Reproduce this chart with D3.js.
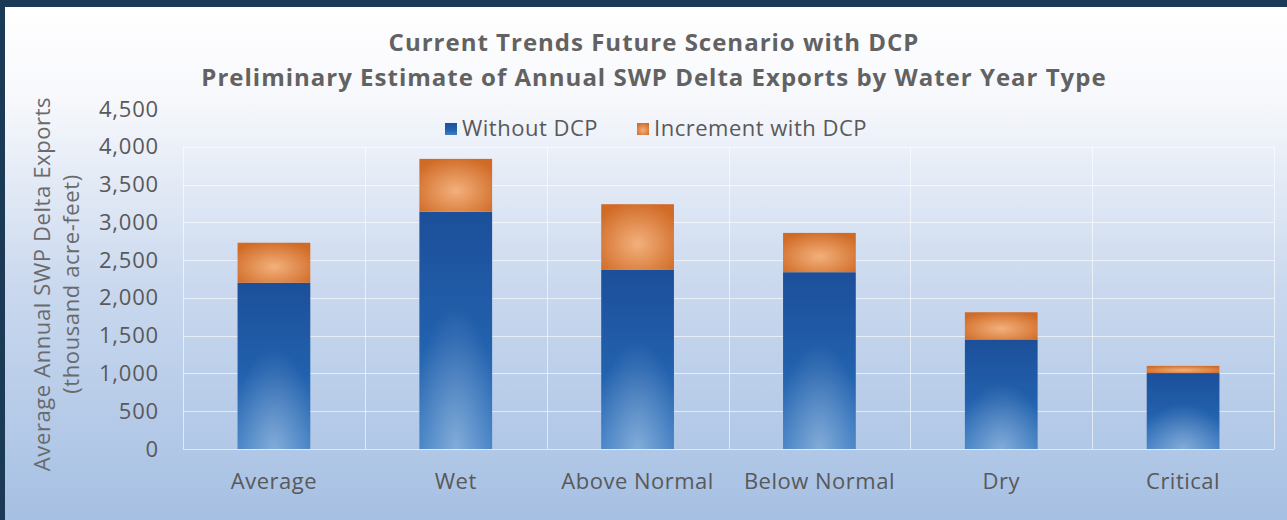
<!DOCTYPE html>
<html>
<head>
<meta charset="utf-8">
<script src="https://cdn.jsdelivr.net/npm/d3@7"></script>
<style>
    body { margin: 0; background: #1b3a56; }
    text { font-family: "Open Sans", sans-serif; }
</style>
</head>
<body>
<script>
(function(){

    //chart data
    var categories = ["Average", "Wet", "Above Normal", "Below Normal", "Dry", "Critical"];
    var withoutDCP = [2200, 3140, 2370, 2340, 1450, 1005];
    var incrementDCP = [530, 700, 870, 520, 360, 95];
    var yTicks = [0, 500, 1000, 1500, 2000, 2500, 3000, 3500, 4000, 4500];
    var seriesNames = ["Without DCP", "Increment with DCP"];
    var titleLines = ["Current Trends Future Scenario with DCP",
        "Preliminary Estimate of Annual SWP Delta Exports by Water Year Type"];
    var yTitleLines = ["Average Annual SWP Delta Exports", "(thousand acre-feet)"];

    var width = 1287,
        height = 520,
        plot = {left: 183, right: 1274, top: 109, bottom: 449};

    var svg = d3.select("body")
        .append("svg")
        .attr("width", width)
        .attr("height", height)
        .style("display", "block");

    var defs = svg.append("defs");

    //background gradient, white at top to pale blue at bottom
    var bg = defs.append("linearGradient").attr("id", "bg")
        .attr("x1", 0).attr("y1", 0).attr("x2", 0).attr("y2", 1);
    bg.append("stop").attr("offset", "0%").attr("stop-color", "#ffffff");
    bg.append("stop").attr("offset", "18%").attr("stop-color", "#f7f8fc");
    bg.append("stop").attr("offset", "55%").attr("stop-color", "#c9d8ee");
    bg.append("stop").attr("offset", "100%").attr("stop-color", "#a6c0e3");

    //blue bar gradient
    var blue = defs.append("linearGradient").attr("id", "blue")
        .attr("x1", 0).attr("y1", 0).attr("x2", 0).attr("y2", 1);
    blue.append("stop").attr("offset", "0%").attr("stop-color", "#1c4f9a");
    blue.append("stop").attr("offset", "55%").attr("stop-color", "#2261ad");
    blue.append("stop").attr("offset", "100%").attr("stop-color", "#3f7fc4");

    var glow = defs.append("radialGradient").attr("id", "glow")
        .attr("cx", 0.5).attr("cy", 1).attr("r", 0.6);
    glow.append("stop").attr("offset", "0%").attr("stop-color", "#ffffff").attr("stop-opacity", 0.35);
    glow.append("stop").attr("offset", "100%").attr("stop-color", "#ffffff").attr("stop-opacity", 0);

    //orange bar gradient
    var orange = defs.append("radialGradient").attr("id", "orange")
        .attr("cx", 0.5).attr("cy", 0.6).attr("r", 0.65);
    orange.append("stop").attr("offset", "0%").attr("stop-color", "#f3b07c");
    orange.append("stop").attr("offset", "100%").attr("stop-color", "#d06b26");

    //background and frame
    svg.append("rect")
        .attr("x", 5).attr("y", 7)
        .attr("width", width - 5).attr("height", height - 7)
        .attr("fill", "url(#bg)");

    //scales
    var x = d3.scaleBand()
        .domain(categories)
        .range([plot.left, plot.right])
        .paddingInner(0.6)
        .paddingOuter(0.3);

    var xEdge = d3.scaleLinear()
        .domain([0, categories.length])
        .range([plot.left, plot.right]);

    var y = d3.scaleLinear()
        .domain([0, 4500])
        .range([plot.bottom, plot.top]);

    //horizontal gridlines
    svg.append("g").selectAll("line")
        .data(yTicks.slice(0, yTicks.length - 1))
        .enter().append("line")
        .attr("x1", plot.left).attr("x2", plot.right)
        .attr("y1", function(d) { return Math.round(y(d)) + 0.5; })
        .attr("y2", function(d) { return Math.round(y(d)) + 0.5; })
        .attr("stroke", "#ffffff").attr("stroke-opacity", 0.6);

    //vertical gridlines at category edges
    svg.append("g").selectAll("line")
        .data(d3.range(categories.length + 1))
        .enter().append("line")
        .attr("x1", function(d) { return Math.round(xEdge(d)) + 0.5; })
        .attr("x2", function(d) { return Math.round(xEdge(d)) + 0.5; })
        .attr("y1", y(4000)).attr("y2", plot.bottom)
        .attr("stroke", "#ffffff").attr("stroke-opacity", 0.6);

    //stacked bars
    var bars = svg.append("g");
    categories.forEach(function(c, i) {
        var base = withoutDCP[i],
            top = base + incrementDCP[i];
        bars.append("rect")
            .attr("x", x(c)).attr("width", x.bandwidth())
            .attr("y", y(base)).attr("height", y(0) - y(base))
            .attr("fill", "url(#blue)");
        bars.append("rect")
            .attr("x", x(c)).attr("width", x.bandwidth())
            .attr("y", y(base)).attr("height", y(0) - y(base))
            .attr("fill", "url(#glow)");
        bars.append("rect")
            .attr("x", x(c)).attr("width", x.bandwidth())
            .attr("y", y(top)).attr("height", y(base) - y(top))
            .attr("fill", "url(#orange)");
    });

    //y axis
    var yAxis = svg.append("g")
        .attr("transform", "translate(" + (plot.left - 24) + ",0)")
        .call(d3.axisLeft(y).tickValues(yTicks).tickSize(0).tickPadding(0).tickFormat(d3.format(",")));
    yAxis.select(".domain").remove();
    yAxis.selectAll("text")
        .style("font-family", "'Open Sans', sans-serif")
        .style("font-size", "22px")
        .style("letter-spacing", "0.8px")
        .attr("fill", "#595959");

    //x axis labels
    var xAxis = svg.append("g")
        .attr("transform", "translate(0," + (plot.bottom + 24) + ")")
        .call(d3.axisBottom(x).tickSize(0).tickPadding(0));
    xAxis.select(".domain").remove();
    xAxis.selectAll("text")
        .style("font-family", "'Open Sans', sans-serif")
        .style("font-size", "22px")
        .style("letter-spacing", "0.5px")
        .attr("fill", "#595959");

    //title
    svg.append("g").selectAll("text")
        .data(titleLines)
        .enter().append("text")
        .attr("x", 654)
        .attr("y", function(d, i) { return 51 + i * 35; })
        .attr("text-anchor", "middle")
        .style("font-size", "24px")
        .style("font-weight", "bold")
        .style("letter-spacing", "1px")
        .attr("fill", "#626262")
        .text(function(d) { return d; });

    //y axis title
    svg.append("g").selectAll("text")
        .data(yTitleLines)
        .enter().append("text")
        .attr("transform", function(d, i) {
            return "translate(" + (50 + i * 29) + ",284) rotate(-90)";
        })
        .attr("text-anchor", "middle")
        .style("font-size", "22px")
        .style("letter-spacing", "0.6px")
        .attr("fill", "#6a6a6a")
        .text(function(d) { return d; });

    //legend
    var legendX = [445, 637],
        legendFill = ["url(#blue)", "url(#orange)"];
    var legend = svg.append("g");
    seriesNames.forEach(function(name, i) {
        legend.append("rect")
            .attr("x", legendX[i]).attr("y", 123)
            .attr("width", 12).attr("height", 12)
            .attr("fill", legendFill[i]);
        legend.append("text")
            .attr("x", legendX[i] + 17).attr("y", 136)
            .style("font-size", "22px")
            .style("letter-spacing", "0.5px")
            .attr("fill", "#595959")
            .text(name);
    });
})();
</script>
</body>
</html>
